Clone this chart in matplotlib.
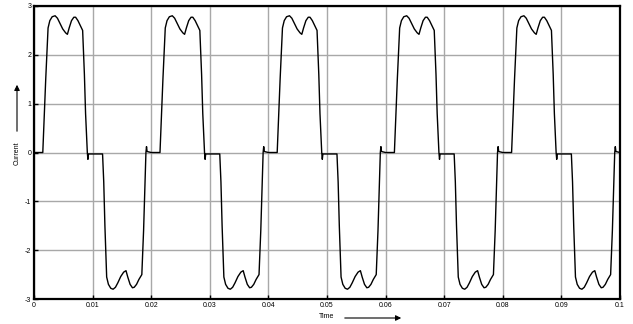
import numpy as np
import matplotlib
matplotlib.use("Agg")
import matplotlib.pyplot as plt

# one period of the current waveform (time relative to cycle start, current)
cycle_t = [0.0000, 0.0015, 0.0017, 0.0020, 0.0024, 0.0027, 0.0031, 0.0036, 0.0040,
           0.0044, 0.0049, 0.0054, 0.0057, 0.0060, 0.0064, 0.0068, 0.0071, 0.0075,
           0.0079, 0.0083, 0.0086, 0.0088, 0.0091, 0.0092, 0.0093,
           0.0117, 0.0119, 0.0121, 0.0124, 0.0127, 0.0131, 0.0135, 0.0139, 0.0143,
           0.0148, 0.0153, 0.0157, 0.0160, 0.0164, 0.0168, 0.0171, 0.0175, 0.0179,
           0.0184, 0.0187, 0.0189, 0.0191, 0.0192, 0.0193, 0.0200]
cycle_i = [0.00, 0.00, 0.60, 1.50, 2.55, 2.70, 2.78, 2.80, 2.75,
           2.65, 2.53, 2.45, 2.42, 2.55, 2.70, 2.77, 2.77, 2.70,
           2.60, 2.50, 1.60, 0.80, 0.00, -0.14, -0.03,
           -0.03, -0.60, -1.50, -2.55, -2.70, -2.78, -2.80, -2.76, -2.67,
           -2.54, -2.45, -2.42, -2.55, -2.70, -2.77, -2.76, -2.70, -2.60,
           -2.50, -1.60, -0.80, 0.00, 0.12, 0.02, 0.00]
cycle_starts = [0.00, 0.02, 0.04, 0.06, 0.08]

x_ticks = [0, 0.01, 0.02, 0.03, 0.04, 0.05, 0.06, 0.07, 0.08, 0.09, 0.1]
x_labels = ["0", "0.01", "0.02", "0.03", "0.04", "0.05", "0.06", "0.07", "0.08", "0.09", "0.1"]
y_ticks = [-3, -2, -1, 0, 1, 2, 3]
y_labels = ["-3", "-2", "-1", "0", "1", "2", "3"]

t = np.concatenate([np.array(cycle_t) + s for s in cycle_starts])
i = np.tile(np.array(cycle_i), len(cycle_starts))

plt.rcParams['font.family'] = ['Liberation Sans', 'DejaVu Sans']
fig = plt.figure(figsize=(6.33, 3.24), dpi=100)
ax = fig.add_axes([34/633, 1 - 299/324, (620-34)/633, (299-6)/324])

ax.plot(t, i, color='black', lw=1.0)
ax.set_xlim(0, 0.1)
ax.set_ylim(-3, 3)
ax.set_xticks(x_ticks)
ax.set_xticklabels(x_labels)
ax.set_yticks(y_ticks)
ax.set_yticklabels(y_labels)
ax.grid(True, color='#a8a8a8', lw=1.0, ls='-')
ax.set_axisbelow(True)
ax.tick_params(direction='in', length=3, width=1, labelsize=5, pad=2, colors='black')
for s in ax.spines.values():
    s.set_linewidth(1.6)

fig.text(327/633, 1 - 316/324, "Time", fontsize=5, ha='center', va='center')
fig.text(17/633, 1 - 153/324, "Current", fontsize=5, ha='center', va='center',
         rotation=90)

# arrows next to the labels
fig.patches.append(matplotlib.patches.FancyArrowPatch(
    (342/633, 1 - 318/324), (404/633, 1 - 318/324), transform=fig.transFigure,
    arrowstyle='-|>', mutation_scale=8, lw=0.8, color='black'))
fig.patches.append(matplotlib.patches.FancyArrowPatch(
    (17/633, 1 - 134/324), (17/633, 1 - 82/324), transform=fig.transFigure,
    arrowstyle='-|>', mutation_scale=8, lw=0.8, color='black'))

fig.savefig("out.png", dpi=100)
